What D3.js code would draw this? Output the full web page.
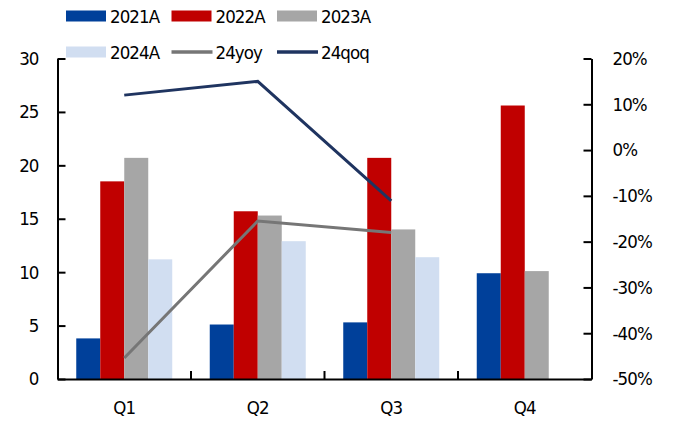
<!DOCTYPE html>
<html>
<head>
<meta charset="utf-8">
<script src="https://cdn.jsdelivr.net/npm/d3@7/dist/d3.min.js"></script>
<style>
  html, body { margin: 0; padding: 0; background: #fff; }
  svg text { font-family: "DejaVu Sans Condensed", "DejaVu Sans", sans-serif; font-size: 18.5px; letter-spacing: -0.9px; fill: #000; }
</style>
</head>
<body>
<svg id="chart" width="681" height="421"></svg>
<script>
// Quarterly values (left axis) and 2024 growth rates (right axis, %)
const quarters = ["Q1", "Q2", "Q3", "Q4"];
const barSeries = ["2021A", "2022A", "2023A", "2024A"];
const v2021 = [3.8, 5.1, 5.3, 9.9];
const v2022 = [18.5, 15.7, 20.7, 25.6];
const v2023 = [20.7, 15.3, 14.0, 10.1];
const v2024 = [11.2, 12.9, 11.4, null];
const yoy24 = [-45.4, -15.5, -18.0];
const qoq24 = [12.0, 15.0, -11.1];
const leftTicks = [0, 5, 10, 15, 20, 25, 30];
const rightTicks = [-50, -40, -30, -20, -10, 0, 10, 20];

const barColors = ["#00409A", "#C00000", "#A6A6A6", "#D1DEF1"];
const yoyColor = "#767676";
const qoqColor = "#1F3460";

const svg = d3.select("#chart");
const plot = { left: 57.5, right: 591.5, top: 58.5, bottom: 379 };

const x = d3.scaleBand().domain(quarters).range([plot.left, plot.right]).paddingInner(0).paddingOuter(0);
const xInner = d3.scaleBand().domain(barSeries).range([0, 96]);
const groupOffset = (x.bandwidth() - 96) / 2;
const yL = d3.scaleLinear().domain([0, 30]).range([plot.bottom, plot.top]);
const yR = d3.scaleLinear().domain([-50, 20]).range([plot.bottom, plot.top]);

const allBars = [v2021, v2022, v2023, v2024];

// Bars
barSeries.forEach((s, si) => {
  svg.append("g").selectAll("rect")
    .data(quarters.map((q, i) => ({ q, v: allBars[si][i] })).filter(d => d.v != null))
    .join("rect")
    .attr("x", d => x(d.q) + groupOffset + xInner(s))
    .attr("y", d => yL(d.v))
    .attr("width", xInner.bandwidth())
    .attr("height", d => yL(0) - yL(d.v))
    .attr("fill", barColors[si]);
});

// Lines on the right axis
const lineGen = d3.line()
  .x((d, i) => x(quarters[i]) + x.bandwidth() / 2)
  .y(d => yR(d));

svg.append("path").datum(yoy24).attr("d", lineGen)
  .attr("fill", "none").attr("stroke", yoyColor).attr("stroke-width", 3);
svg.append("path").datum(qoq24).attr("d", lineGen)
  .attr("fill", "none").attr("stroke", qoqColor).attr("stroke-width", 3);

// Axes
const axisStyle = g => {
  g.selectAll(".domain").attr("stroke", "#000").attr("stroke-width", 2);
  g.selectAll(".tick line").attr("stroke", "#000").attr("stroke-width", 2);
  g.selectAll("text").attr("font-family", null).attr("font-size", null);
};

svg.append("g")
  .attr("transform", `translate(${plot.left},0)`)
  .call(d3.axisRight(yL).tickValues(leftTicks).tickSize(8).tickSizeOuter(0).tickFormat(d => d))
  .call(axisStyle)
  .call(g => g.selectAll("text").attr("x", -19).attr("text-anchor", "end"));

svg.append("g")
  .attr("transform", `translate(${plot.right},0)`)
  .call(d3.axisLeft(yR).tickValues(rightTicks).tickSize(8).tickSizeOuter(0).tickFormat(d => d + "%"))
  .call(axisStyle)
  .call(g => g.selectAll("text").attr("x", 21).attr("text-anchor", "start"));

const xAxis = svg.append("g")
  .attr("transform", `translate(0,${plot.bottom})`);
xAxis.call(d3.axisTop(x).tickSize(0).tickSizeOuter(0))
  .call(axisStyle)
  .call(g => g.selectAll("text").attr("y", 29).attr("dy", "0.32em"));
// Category separator ticks
xAxis.selectAll(".sep")
  .data(quarters.slice(1))
  .join("line")
  .attr("x1", d => x(d)).attr("x2", d => x(d))
  .attr("y1", 0).attr("y2", -8)
  .attr("stroke", "#000").attr("stroke-width", 2);

// Legend
const legendItems = [
  { name: "2021A", type: "rect", color: barColors[0], col: 0, row: 0 },
  { name: "2022A", type: "rect", color: barColors[1], col: 1, row: 0 },
  { name: "2023A", type: "rect", color: barColors[2], col: 2, row: 0 },
  { name: "2024A", type: "rect", color: barColors[3], col: 0, row: 1 },
  { name: "24yoy", type: "line", color: yoyColor, col: 1, row: 1 },
  { name: "24qoq", type: "line", color: qoqColor, col: 2, row: 1 }
];
const colX = [66, 171.5, 277];
const rowY = [16, 52];
const lg = svg.append("g").selectAll("g").data(legendItems).join("g")
  .attr("transform", d => `translate(${colX[d.col]},${rowY[d.row]})`);
lg.filter(d => d.type === "rect").append("rect")
  .attr("x", 0).attr("y", -5.5).attr("width", 40).attr("height", 11)
  .attr("fill", d => d.color);
lg.filter(d => d.type === "line").append("line")
  .attr("x1", 0).attr("x2", 41).attr("y1", 0).attr("y2", 0)
  .attr("stroke", d => d.color).attr("stroke-width", 3.5);
lg.append("text").attr("x", 44).attr("y", 0).attr("dy", "0.36em").text(d => d.name);
</script>
</body>
</html>
